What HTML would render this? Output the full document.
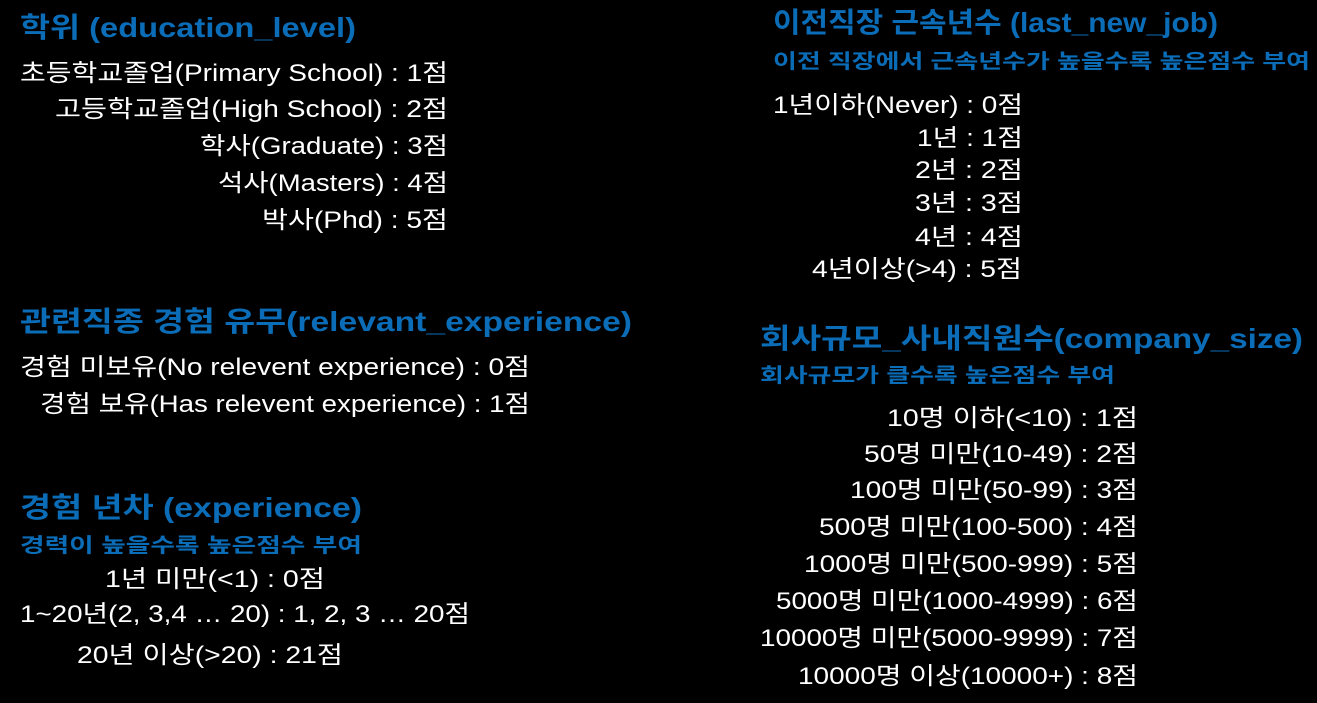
<!DOCTYPE html>
<html><head><meta charset="utf-8"><style>
html,body{margin:0;padding:0;background:#000;}
svg{display:block}
text{font-family:"Liberation Sans","Noto Sans CJK KR",sans-serif;}
.t{fill:#0b6db7;font-weight:bold;font-size:28px}
.s{fill:#0b6db7;font-weight:bold;font-size:20px}
.w{fill:#fff;font-size:24px}
</style></head><body>
<svg width="1317" height="703" viewBox="0 0 1317 703">
<rect width="1317" height="703" fill="#000"/>
<g>
<text class="t" x="20" y="37" textLength="336" lengthAdjust="spacingAndGlyphs">학위 (education_level)</text>
<text class="w" x="20" y="81" textLength="428" lengthAdjust="spacingAndGlyphs">초등학교졸업(Primary School) : 1점</text>
<text class="w" x="55" y="117" textLength="393" lengthAdjust="spacingAndGlyphs">고등학교졸업(High School) : 2점</text>
<text class="w" x="200" y="154" textLength="248" lengthAdjust="spacingAndGlyphs">학사(Graduate) : 3점</text>
<text class="w" x="218" y="191" textLength="230" lengthAdjust="spacingAndGlyphs">석사(Masters) : 4점</text>
<text class="w" x="262" y="228" textLength="186" lengthAdjust="spacingAndGlyphs">박사(Phd) : 5점</text>
</g>
<g>
<text class="t" x="20" y="331" textLength="612" lengthAdjust="spacingAndGlyphs">관련직종 경험 유무(relevant_experience)</text>
<text class="w" x="20" y="375" textLength="510" lengthAdjust="spacingAndGlyphs">경험 미보유(No relevent experience) : 0점</text>
<text class="w" x="40" y="412" textLength="490" lengthAdjust="spacingAndGlyphs">경험 보유(Has relevent experience) : 1점</text>
</g>
<g>
<text class="t" x="20" y="517" textLength="342" lengthAdjust="spacingAndGlyphs">경험 년차 (experience)</text>
<text class="s" x="20" y="552" textLength="342" lengthAdjust="spacingAndGlyphs">경력이 높을수록 높은점수 부여</text>
<text class="w" x="105" y="587" textLength="220" lengthAdjust="spacingAndGlyphs">1년 미만(&lt;1) : 0점</text>
<text class="w" x="20" y="622" textLength="450" lengthAdjust="spacingAndGlyphs">1~20년(2, 3,4 … 20) : 1, 2, 3 … 20점</text>
<text class="w" x="77" y="663" textLength="266" lengthAdjust="spacingAndGlyphs">20년 이상(&gt;20) : 21점</text>
</g>
<g>
<text class="t" x="773" y="32" textLength="445" lengthAdjust="spacingAndGlyphs">이전직장 근속년수 (last_new_job)</text>
<text class="s" x="773" y="68" textLength="537" lengthAdjust="spacingAndGlyphs">이전 직장에서 근속년수가 높을수록 높은점수 부여</text>
<text class="w" x="773" y="113" textLength="250" lengthAdjust="spacingAndGlyphs">1년이하(Never) : 0점</text>
<text class="w" x="917" y="146" textLength="106" lengthAdjust="spacingAndGlyphs">1년 : 1점</text>
<text class="w" x="915" y="178" textLength="108" lengthAdjust="spacingAndGlyphs">2년 : 2점</text>
<text class="w" x="915" y="211" textLength="108" lengthAdjust="spacingAndGlyphs">3년 : 3점</text>
<text class="w" x="915" y="245" textLength="108" lengthAdjust="spacingAndGlyphs">4년 : 4점</text>
<text class="w" x="812" y="277" textLength="210" lengthAdjust="spacingAndGlyphs">4년이상(&gt;4) : 5점</text>
</g>
<g>
<text class="t" x="760" y="348" textLength="543" lengthAdjust="spacingAndGlyphs">회사규모_사내직원수(company_size)</text>
<text class="s" x="760" y="382" textLength="355" lengthAdjust="spacingAndGlyphs">회사규모가 클수록 높은점수 부여</text>
<text class="w" x="887" y="426" textLength="251" lengthAdjust="spacingAndGlyphs">10명 이하(&lt;10) : 1점</text>
<text class="w" x="864" y="462" textLength="274" lengthAdjust="spacingAndGlyphs">50명 미만(10-49) : 2점</text>
<text class="w" x="850" y="498" textLength="288" lengthAdjust="spacingAndGlyphs">100명 미만(50-99) : 3점</text>
<text class="w" x="819" y="535" textLength="319" lengthAdjust="spacingAndGlyphs">500명 미만(100-500) : 4점</text>
<text class="w" x="804" y="572" textLength="334" lengthAdjust="spacingAndGlyphs">1000명 미만(500-999) : 5점</text>
<text class="w" x="776" y="609" textLength="362" lengthAdjust="spacingAndGlyphs">5000명 미만(1000-4999) : 6점</text>
<text class="w" x="760" y="646" textLength="378" lengthAdjust="spacingAndGlyphs">10000명 미만(5000-9999) : 7점</text>
<text class="w" x="798" y="684" textLength="340" lengthAdjust="spacingAndGlyphs">10000명 이상(10000+) : 8점</text>
</g>
</svg>
</body></html>
